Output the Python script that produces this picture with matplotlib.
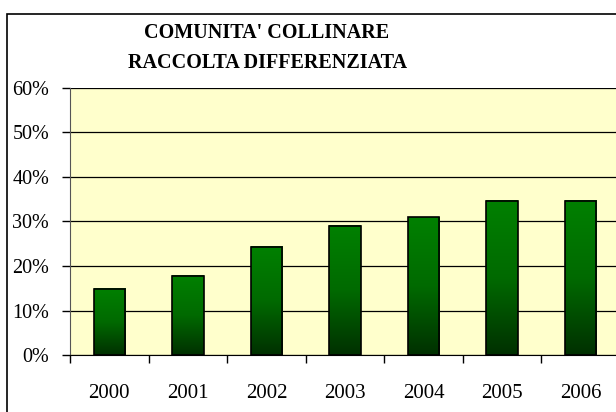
import matplotlib.pyplot as plt
import numpy as np
from matplotlib.colors import LinearSegmentedColormap
from matplotlib.patches import Rectangle

years = ['2000', '2001', '2002', '2003', '2004', '2005', '2006']
values = [14.9, 17.8, 24.3, 29.0, 31.0, 34.7, 34.7]

plt.rcParams['font.family'] = ['Liberation Serif', 'DejaVu Serif']

fig = plt.figure(figsize=(6.16, 4.12), dpi=100)
fig.patch.set_facecolor('white')

# chart border (right and bottom run off the picture)
fig.patches.append(Rectangle((7 / 616, -0.05), 1.1, 1 - 14 / 412 + 0.05,
                             transform=fig.transFigure, fill=False,
                             edgecolor='black', linewidth=1.2, zorder=0))

ax = fig.add_axes([70 / 616, 1 - 355 / 412, 550 / 616, 267 / 412])
ax.set_facecolor('#ffffcc')

x = np.arange(len(years))
width = 0.4
green = LinearSegmentedColormap.from_list('g', ['#003000', '#006a00', '#008000'])
grad = np.linspace(0, 1, 256).reshape(-1, 1)

bars = ax.bar(x, values, width=width, color='none', edgecolor='black',
              linewidth=1.2, zorder=3)
for b in bars:
    x0, y0 = b.get_x(), b.get_y()
    ax.imshow(grad, extent=[x0, x0 + b.get_width(), y0, y0 + b.get_height()],
              origin='lower', aspect='auto', cmap=green, zorder=2)

ax.set_xlim(-0.5, len(years) - 0.5)
ax.set_ylim(0, 60)
ax.set_yticks(range(0, 61, 10))
ax.set_yticklabels([f'{v}%' for v in range(0, 61, 10)])
ax.yaxis.grid(True, color='black', linewidth=0.9)
ax.set_axisbelow(True)

ax.set_xticks(x)
ax.set_xticklabels(years)
ax.set_xticks(np.arange(-0.5, len(years), 1), minor=True)
ax.tick_params(axis='x', which='major', length=0, pad=21, labelsize=15)
ax.tick_params(axis='x', which='minor', length=6, direction='out', width=1)
ax.tick_params(axis='y', length=6, direction='out', width=1, pad=9, labelsize=14.5)
for lab in ax.get_yticklabels():
    lab.set_va('center_baseline')

for s in ['top', 'right']:
    ax.spines[s].set_visible(False)
ax.spines['left'].set_color('#555555')
ax.spines['bottom'].set_color('black')

fig.text(267 / 616, 1 - 33 / 412, "COMUNITA' COLLINARE", ha='center', va='center',
         fontsize=14.5, fontweight='bold')
fig.text(267 / 616, 1 - 63 / 412, 'RACCOLTA DIFFERENZIATA', ha='center', va='center',
         fontsize=14.5, fontweight='bold')

fig.savefig('out.png', dpi=100)
